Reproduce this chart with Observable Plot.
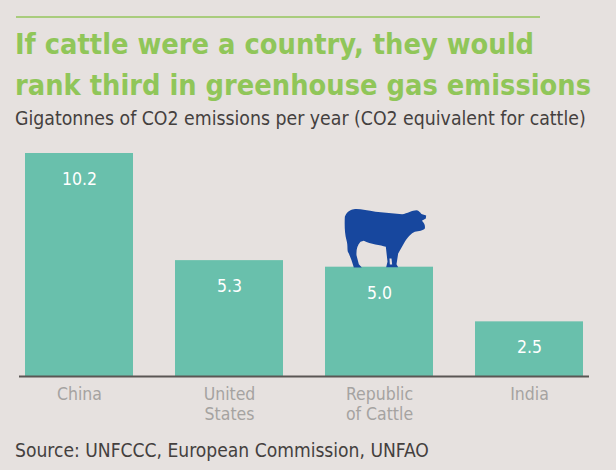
<!DOCTYPE html>
<html>
<head>
<meta charset="utf-8">
<script src="https://cdn.jsdelivr.net/npm/d3@7"></script>
<script src="https://cdn.jsdelivr.net/npm/@observablehq/plot@0.6"></script>
<style>
html,body{margin:0;padding:0;background:#e6e1df;width:616px;height:470px;overflow:hidden;position:relative}
.t{position:absolute;white-space:nowrap;font-family:"DejaVu Sans Condensed","DejaVu Sans",sans-serif}
#rule{position:absolute;left:16px;top:16px;width:524px;height:1.5px;background:#a9cc7d}
#title{left:15px;top:24px;font-size:28.7px;line-height:40.5px;font-weight:700;color:#90c659}
#subtitle{left:15px;top:107px;font-size:19.3px;color:#44403e}
#source{left:15px;top:439px;font-size:19.1px;color:#44403e}
#chart{position:absolute;left:0;top:135px}
#chart svg{background:transparent}
</style>
</head>
<body>
<div id="rule"></div>
<div class="t" id="title">If cattle were a country, they would<br>rank third in greenhouse gas emissions</div>
<div class="t" id="subtitle">Gigatonnes of CO2 emissions per year (CO2 equivalent for cattle)</div>
<div id="chart"></div>
<div class="t" id="source">Source: UNFCCC, European Commission, UNFAO</div>
<script>
const categories = ["China", "United\nStates", "Republic\nof Cattle", "India"];
const values = [10.2, 5.3, 5.0, 2.5];
const labels = ["10.2", "5.3", "5.0", "2.5"];
const rows = categories.map((c, i) => ({category: c, value: values[i], label: labels[i]}));

const cow = "M100 57C115 55 140 60 165 65L245 72C260 70 275 60 288 60C298 62 300 70 305 72L317 76L316 85L304 92C310 97 315 105 313 115C308 122 295 122 283 125C272 130 262 140 250 160L233 190L228 222L233 231L197 231L201 215L196 170C180 165 150 163 130 152L120 155C110 165 107 180 108 195L115 222L124 232L100 232C95 215 88 195 82 185C80 170 82 165 78 150C72 130 72 100 73 80C78 65 88 59 100 57ZM207 205L213 205L215 223L208 223Z";
const cowSrc = "data:image/svg+xml," + encodeURIComponent(`<svg xmlns="http://www.w3.org/2000/svg" viewBox="0 0 390 300"><path fill="#17479e" fill-rule="evenodd" d="${cow}"/></svg>`);
const font = '"DejaVu Sans Condensed","DejaVu Sans",sans-serif';

const plot = Plot.plot({
  width: 616,
  height: 305,
  marginLeft: 25,
  marginRight: 33,
  marginTop: 18,
  marginBottom: 64,
  style: {background: "transparent", fontFamily: font},
  x: {domain: categories, paddingInner: 0.28, paddingOuter: 0, label: null},
  y: {domain: [0, 10.2], axis: null},
  marks: [
    Plot.barY(rows, {x: "category", y: "value", fill: "#69c0ac"}),
    Plot.ruleY([0], {stroke: "#5a5654", strokeWidth: 2, insetLeft: -6, insetRight: -6}),
    Plot.text(rows, {x: "category", y: "value", text: "label", dy: 26, fill: "#fff", fontSize: 17.5}),
    Plot.image(rows.filter(d => d.category.startsWith("Republic")), {x: "category", y: "value", src: () => cowSrc, width: 130, height: 100, dx: 6, dy: -27}),
    Plot.axisX({tickSize: 0, tickPadding: 9, fontSize: 17.5, lineHeight: 1.14, color: "#a5a3a1", label: null, lineWidth: 12})
  ]
});
document.getElementById("chart").appendChild(plot);
</script>
</body>
</html>
